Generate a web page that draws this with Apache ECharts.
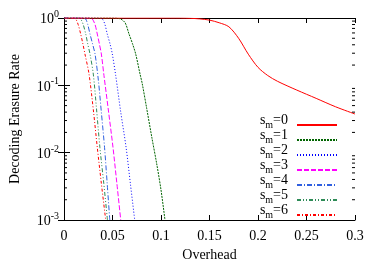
<!DOCTYPE html>
<html><head><meta charset="utf-8">
<script src="https://cdn.jsdelivr.net/npm/echarts@6/dist/echarts.min.js"></script>
<style>html,body{margin:0;padding:0;background:#fff}#c{width:383px;height:268px}</style>
</head><body><div id="c"></div>
<script>
const seriesNames = ['s_m=0','s_m=1','s_m=2','s_m=3','s_m=4','s_m=5','s_m=6'];
const x0 = [0, 0.05, 0.1, 0.12, 0.13, 0.14, 0.15, 0.16, 0.17, 0.18, 0.19, 0.2, 0.21, 0.22, 0.24, 0.26, 0.28, 0.3];
const y0 = [1, 1, 1, 0.999, 0.99, 0.97, 0.93, 0.85, 0.74, 0.5, 0.29, 0.185, 0.14, 0.115, 0.085, 0.064, 0.048, 0.0375];
const x1 = [0, 0.045, 0.0515, 0.055, 0.0585, 0.063, 0.067, 0.0705, 0.0739, 0.0784, 0.0807, 0.0853, 0.0905, 0.0956, 0.1, 0.1041];
const y1 = [1, 1, 0.999, 0.99, 0.966, 0.85, 0.58, 0.42, 0.292, 0.147, 0.105, 0.045, 0.017, 0.0068, 0.0028, 0.001];
const x2 = [0, 0.03, 0.034, 0.037, 0.0395, 0.042, 0.0446, 0.0475, 0.0498, 0.0533, 0.0585, 0.064, 0.0685, 0.0729];
const y2 = [1, 1, 0.999, 0.99, 0.966, 0.82, 0.578, 0.41, 0.292, 0.14, 0.04, 0.012, 0.0034, 0.001];
const x3 = [0, 0.02, 0.024, 0.027, 0.0292, 0.032, 0.0343, 0.0365, 0.0385, 0.0412, 0.046, 0.0505, 0.0545, 0.0585];
const y3 = [1, 1, 0.999, 0.99, 0.966, 0.8, 0.578, 0.41, 0.292, 0.14, 0.04, 0.012, 0.0035, 0.001];
const x4 = [0, 0.015, 0.0185, 0.0205, 0.0224, 0.0245, 0.0268, 0.0295, 0.032, 0.0354, 0.0385, 0.0418, 0.0445, 0.0472];
const y4 = [1, 1, 0.999, 0.99, 0.966, 0.8, 0.578, 0.41, 0.292, 0.12, 0.04, 0.012, 0.0035, 0.001];
const x5 = [0, 0.01, 0.013, 0.015, 0.0172, 0.0198, 0.0224, 0.0245, 0.0268, 0.0302, 0.0335, 0.037, 0.041, 0.0448];
const y5 = [1, 1, 0.999, 0.99, 0.966, 0.8, 0.578, 0.41, 0.292, 0.147, 0.045, 0.012, 0.0035, 0.001];
const x6 = [0, 0.006, 0.0085, 0.0102, 0.0121, 0.0146, 0.0172, 0.0195, 0.0216, 0.0258, 0.0305, 0.0343, 0.0385, 0.043];
const y6 = [1, 1, 0.999, 0.99, 0.966, 0.8, 0.578, 0.41, 0.292, 0.147, 0.04, 0.012, 0.0035, 0.001];
const xTicks = [0, 0.05, 0.1, 0.15, 0.2, 0.25, 0.3];
const yDecades = [0.001, 0.01, 0.1, 1];

const xs = [x0,x1,x2,x3,x4,x5,x6];
const ys = [y0,y1,y2,y3,y4,y5,y6];
const colors = ['#ff0000','#006400','#0000ff','#ff00ff','#3060e0','#2e8b57','#ff0000'];
const dashes = ['solid',[2,1],[1,2],[5,2],[5,2,1,2],[4,2,1,2,1,2],[3,2,1,2]];

const minorVals = [];
for (let d = 0; d < yDecades.length - 1; d++) for (let k = 2; k <= 9; k++) minorVals.push([0, yDecades[d]*k]);

const FONT = 'Liberation Serif';
const chart = echarts.init(document.getElementById('c'), null, {renderer:'canvas'});
const series = seriesNames.map((n,i)=>({
  name:n, type:'line', showSymbol:false, symbol:'none', smooth:0.3,
  data: xs[i].map((x,j)=>[x, ys[i][j]]),
  lineStyle:{color:colors[i], width:1, type:dashes[i]}, itemStyle:{color:colors[i]},
  z: 10 - i, animation:false
}));
series.push({
  type:'custom', silent:true, animation:false, data:minorVals, z:20,
  renderItem:function(params, api){
    const pl = api.coord([xTicks[0], api.value(1)]);
    const pr = api.coord([xTicks[xTicks.length-1], api.value(1)]);
    return {type:'group', children:[
      {type:'line', shape:{x1:pl[0], y1:pl[1], x2:pl[0]+3, y2:pl[1]}, style:{stroke:'#000', lineWidth:1}},
      {type:'line', shape:{x1:pr[0], y1:pr[1], x2:pr[0]-3, y2:pr[1]}, style:{stroke:'#000', lineWidth:1}}
    ]};
  }
});
const legends = seriesNames.map((n,i)=>({
  data:[n], orient:'vertical', right:45, top:113 + i*15, padding:0, align:'right',
  itemWidth:40, itemHeight:14, itemGap:0, selectedMode:false,
  itemStyle:{color:'transparent', borderWidth:0, opacity:0},
  formatter:nm=>'{a|s}{m|m}{c|'+nm.slice(3)+'}',
  textStyle:{fontFamily:FONT, color:'#000',
    rich:{a:{fontFamily:FONT, fontSize:14, lineHeight:10, color:'#000', verticalAlign:'bottom', padding:[0,0,3,0]},
          c:{fontFamily:FONT, fontSize:14, lineHeight:10, color:'#000', verticalAlign:'bottom', padding:[0,4,3,0]},
          m:{fontFamily:FONT, fontSize:10, lineHeight:8, color:'#000', verticalAlign:'bottom'}}}
}));
const axisCommon = {axisLine:{show:true, lineStyle:{color:'#000', width:1}}, splitLine:{show:false}};
chart.setOption({
  animation:false,
  textStyle:{fontFamily:FONT},
  grid:{left:64, right:28, top:18, bottom:48},
  xAxis:[
    Object.assign({type:'value', min:0, max:0.3, interval:0.05, position:'bottom',
      name:'Overhead', nameLocation:'middle', nameGap:28,
      nameTextStyle:{fontFamily:FONT, fontSize:14, color:'#000'},
      axisTick:{inside:true, length:5, lineStyle:{color:'#000'}},
      axisLabel:{fontFamily:FONT, fontSize:14, color:'#000', margin:9,
        formatter:v=>{const t=xTicks.find(a=>Math.abs(a-v)<1e-9);return t===undefined?'':String(t);}}}, axisCommon),
    Object.assign({type:'value', min:0, max:0.3, interval:0.05, position:'top',
      axisTick:{inside:true, length:5, lineStyle:{color:'#000'}}, axisLabel:{show:false}}, axisCommon)
  ],
  yAxis:[
    Object.assign({type:'log', min:0.001, max:1, logBase:10, position:'left',
      name:'Decoding Erasure Rate', nameLocation:'middle', nameGap:42,
      nameTextStyle:{fontFamily:FONT, fontSize:14, color:'#000'},
      axisTick:{inside:true, length:6, lineStyle:{color:'#000'}},
      axisLabel:{margin:5, color:'#000', fontFamily:FONT,
        formatter:v=>'{b|10}{e|'+Math.round(Math.log10(v))+'}',
        rich:{b:{fontFamily:FONT, fontSize:14, color:'#000', verticalAlign:'bottom'},
              e:{fontFamily:FONT, fontSize:10, color:'#000', verticalAlign:'bottom', padding:[0,0,7,0]}}}}, axisCommon),
    Object.assign({type:'log', min:0.001, max:1, logBase:10, position:'right',
      axisTick:{inside:true, length:6, lineStyle:{color:'#000'}}, axisLabel:{show:false}}, axisCommon)
  ],
  legend:legends,
  series:series
});
</script></body></html>
